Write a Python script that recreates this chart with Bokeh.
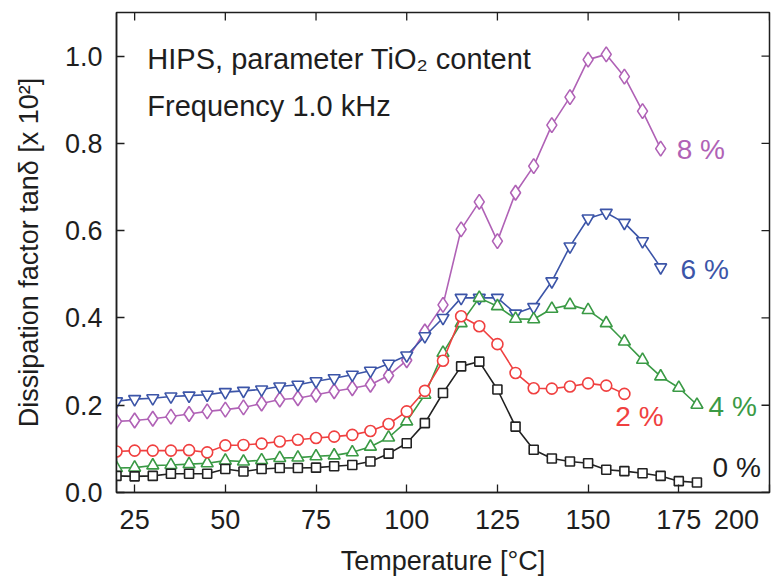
from bokeh.plotting import figure
from bokeh.models import LinearAxis, FixedTicker, Label, Range1d, PrintfTickFormatter
from bokeh.embed import file_html
from bokeh.resources import INLINE

# ---- data ----
temp_0 = list(range(20, 185, 5))
tan_0 = [0.038, 0.037, 0.038, 0.043, 0.043, 0.043, 0.054, 0.048, 0.054, 0.056,
         0.056, 0.057, 0.060, 0.063, 0.071, 0.089, 0.113, 0.159, 0.228, 0.289,
         0.300, 0.236, 0.151, 0.098, 0.078, 0.071, 0.067, 0.052, 0.049, 0.044,
         0.038, 0.026, 0.023]

temp_2 = list(range(20, 165, 5))
tan_2 = [0.094, 0.096, 0.096, 0.096, 0.097, 0.092, 0.108, 0.109, 0.112, 0.117,
         0.121, 0.125, 0.128, 0.132, 0.141, 0.157, 0.186, 0.233, 0.302, 0.404,
         0.381, 0.340, 0.274, 0.239, 0.238, 0.243, 0.250, 0.245, 0.226]

temp_4 = list(range(20, 185, 5))
tan_4 = [0.056, 0.057, 0.062, 0.063, 0.065, 0.067, 0.073, 0.071, 0.074, 0.079,
         0.080, 0.083, 0.085, 0.092, 0.105, 0.126, 0.163, 0.224, 0.320, 0.388,
         0.446, 0.427, 0.398, 0.397, 0.421, 0.430, 0.418, 0.388, 0.346, 0.304,
         0.266, 0.240, 0.201]

temp_6 = list(range(20, 175, 5))
tan_6 = [0.209, 0.214, 0.216, 0.220, 0.222, 0.224, 0.230, 0.233, 0.236, 0.243,
         0.247, 0.255, 0.262, 0.270, 0.279, 0.295, 0.314, 0.358, 0.400, 0.446,
         0.446, 0.446, 0.410, 0.425, 0.484, 0.564, 0.628, 0.641, 0.618, 0.576,
         0.516]

temp_8 = list(range(20, 175, 5))
tan_8 = [0.163, 0.165, 0.169, 0.174, 0.180, 0.186, 0.190, 0.195, 0.204, 0.213,
         0.216, 0.224, 0.232, 0.239, 0.247, 0.268, 0.303, 0.369, 0.430, 0.603,
         0.666, 0.576, 0.687, 0.748, 0.842, 0.906, 0.992, 1.004, 0.953, 0.874,
         0.788]

x_ticks = [25, 50, 75, 100, 125, 150, 175, 200]
y_ticks = [0.0, 0.2, 0.4, 0.6, 0.8, 1.0]

X_MIN, X_MAX = 20, 200
Y_MIN, Y_MAX = 0.0, 1.1
FW, FH = 653, 480

FONT = "Liberation Sans"
INK = "#1e1e1e"
C0, C2, C4, C6, C8 = "#222222", "#f04040", "#3a9a45", "#3c55a8", "#b062b6"

p = figure(frame_width=FW, frame_height=FH,
           min_border_left=116, min_border_right=12,
           min_border_top=12, min_border_bottom=84,
           x_range=Range1d(X_MIN, X_MAX), y_range=Range1d(Y_MIN, Y_MAX),
           x_axis_location=None, y_axis_location=None,
           output_backend="svg", toolbar_location=None)
p.xgrid.visible = False
p.ygrid.visible = False
p.outline_line_color = INK
p.outline_line_width = 1.5
p.background_fill_color = "white"
p.border_fill_color = "white"


def style_axis(ax):
    ax.major_tick_in = 8
    ax.major_tick_out = 0
    ax.minor_tick_line_color = None
    ax.major_tick_line_color = INK
    ax.major_tick_line_width = 1.3
    ax.axis_line_color = INK
    ax.axis_line_width = 1.5
    ax.major_label_text_font = FONT
    ax.major_label_text_font_size = "27px"
    ax.major_label_text_color = INK
    ax.axis_label_text_font = FONT
    ax.axis_label_text_font_size = "27px"
    ax.axis_label_text_font_style = "normal"
    ax.axis_label_text_color = INK


xa = LinearAxis(ticker=FixedTicker(ticks=x_ticks), axis_label="Temperature [°C]")
style_axis(xa)
xa.major_label_standoff = 12
xa.axis_label_standoff = 8
xa.major_label_overrides = {200: "200\u00a0\u00a0\u00a0"}
p.add_layout(xa, "below")

ya = LinearAxis(ticker=FixedTicker(ticks=y_ticks), axis_label="Dissipation factor tanδ [x 10²]",
                formatter=PrintfTickFormatter(format="%.1f"))
style_axis(ya)
ya.major_label_standoff = 14
ya.axis_label_standoff = 18
p.add_layout(ya, "left")

# inward tick marks mirrored on the top and right frame edges
tick_len_y = 8 * (Y_MAX - Y_MIN) / FH
tick_len_x = 8 * (X_MAX - X_MIN) / FW
p.segment(x0=x_ticks, y0=[Y_MAX] * len(x_ticks), x1=x_ticks,
          y1=[Y_MAX - tick_len_y] * len(x_ticks), line_color=INK, line_width=1.3)
p.segment(x0=[X_MAX] * len(y_ticks), y0=y_ticks, x1=[X_MAX - tick_len_x] * len(y_ticks),
          y1=y_ticks, line_color=INK, line_width=1.3)

LW = 1.6
# purple 8 %
p.line(temp_8, tan_8, line_color=C8, line_width=LW)
p.scatter(temp_8, tan_8, marker="diamond", size=15, line_color=C8,
          fill_color="white", line_width=LW)
# blue 6 %
p.line(temp_6, tan_6, line_color=C6, line_width=LW)
p.scatter(temp_6, tan_6, marker="inverted_triangle", size=12, line_color=C6,
          fill_color="white", line_width=LW)
# green 4 %
p.line(temp_4, tan_4, line_color=C4, line_width=LW)
p.scatter(temp_4, tan_4, marker="triangle", size=12, line_color=C4,
          fill_color="white", line_width=LW)
# red 2 %
p.line(temp_2, tan_2, line_color=C2, line_width=LW)
p.scatter(temp_2, tan_2, marker="circle", size=11, line_color=C2,
          fill_color="white", line_width=LW)
# black 0 %
p.line(temp_0, tan_0, line_color=C0, line_width=LW)
p.scatter(temp_0, tan_0, marker="square", size=9, line_color=C0,
          fill_color="white", line_width=LW)


def add_label(x, y, text, color, size="29px", align="left", baseline="middle"):
    p.add_layout(Label(x=x, y=y, text=text, text_color=color,
                       text_font=FONT, text_font_size=size,
                       text_align=align, text_baseline=baseline))


add_label(28.5, 0.993, "HIPS, parameter TiO₂ content", INK, baseline="alphabetic")
add_label(28.5, 0.885, "Frequency 1.0 kHz", INK, baseline="alphabetic")

add_label(174.4, 0.787, "8 %", C8, size="28px")
add_label(175.5, 0.511, "6 %", C6, size="28px")
add_label(183.2, 0.197, "4 %", C4, size="28px")
add_label(157.5, 0.174, "2 %", C2, size="28px")
add_label(184.3, 0.057, "0 %", INK, size="28px")

open("out.html", "w").write(file_html(p, INLINE))
